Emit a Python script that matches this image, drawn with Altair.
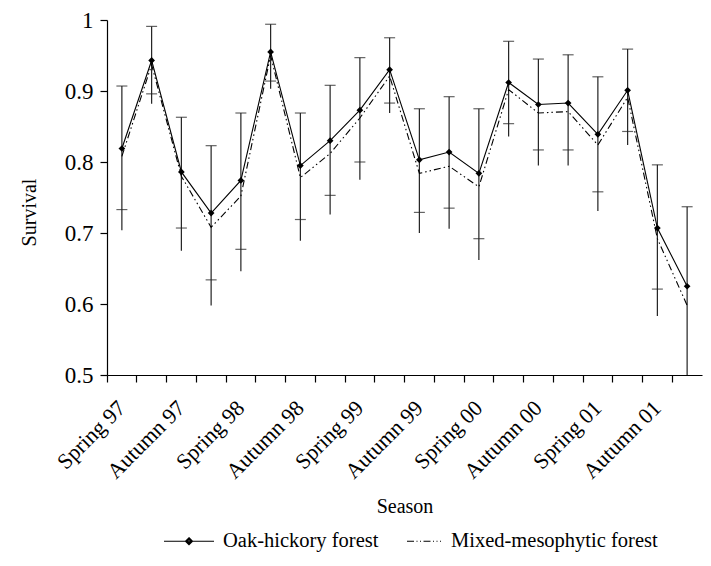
import altair as alt
import pandas as pd

# ---- data ----
seasons = [
    "Spring 97", "Summer 97", "Autumn 97", "Winter 97",
    "Spring 98", "Summer 98", "Autumn 98", "Winter 98",
    "Spring 99", "Summer 99", "Autumn 99", "Winter 99",
    "Spring 00", "Summer 00", "Autumn 00", "Winter 00",
    "Spring 01", "Summer 01", "Autumn 01", "Winter 01",
]
oak = [0.819, 0.943, 0.786, 0.728, 0.774, 0.955, 0.795, 0.830, 0.873, 0.930,
       0.803, 0.814, 0.784, 0.912, 0.881, 0.883, 0.839, 0.901, 0.707, 0.625]
mixed = [0.808, 0.937, 0.780, 0.708, 0.752, 0.950, 0.778, 0.812, 0.862, 0.921,
         0.784, 0.794, 0.765, 0.902, 0.869, 0.871, 0.824, 0.891, 0.692, 0.598]
err_upper = [0.907, 0.991, 0.863, 0.823, 0.869, 0.994, 0.869, 0.908, 0.947, 0.975,
             0.875, 0.892, 0.875, 0.970, 0.945, 0.951, 0.920, 0.959, 0.796, 0.737]
err_lower_cap = [0.733, 0.896, 0.707, 0.634, 0.677, 0.914, 0.719, 0.753, 0.800, 0.883,
                 0.729, 0.735, 0.692, 0.854, 0.817, 0.817, 0.758, 0.843, 0.621, None]
err_lower_end = [0.704, 0.882, 0.675, 0.598, 0.646, 0.903, 0.689, 0.726, 0.775, 0.869,
                 0.700, 0.706, 0.662, 0.836, 0.795, 0.795, 0.731, 0.824, 0.583, 0.500]
series_names = ["Oak-hickory forest", "Mixed-mesophytic forest"]
y_ticks = [0.5, 0.6, 0.7, 0.8, 0.9, 1.0]

FONT = "Liberation Serif"
W, H = 595, 355

err_df = pd.DataFrame({
    "season": seasons, "upper": err_upper,
    "lcap": err_lower_cap, "lend": err_lower_end,
})
oak_df = pd.DataFrame({"season": seasons, "value": oak, "series": series_names[0]})
mixed_df = pd.DataFrame({"season": seasons, "value": mixed, "series": series_names[1]})
long_df = pd.concat([oak_df, mixed_df], ignore_index=True)

x_enc = alt.X(
    "season:N", sort=seasons, title="Season",
    scale=alt.Scale(paddingInner=0, paddingOuter=0),
    axis=alt.Axis(
        bandPosition=0, tickSize=7, labelAngle=-45, labelAlign="right",
        labelBaseline="middle", labelPadding=22, labelOverlap=False,
        labelFontSize=22,
        labelExpr="test(/Summer|Winter/, datum.label) ? '' : datum.label",
        titleY=131, titleBaseline="middle",
    ),
)
yscale = alt.Scale(domain=[0.5, 1.0], nice=False, zero=False)
yaxis = alt.Axis(values=y_ticks, format=".1~f", tickSize=7, labelPadding=7,
                 labelFontSize=23, titleX=-78, titleY=192, titleBaseline="middle")


def y_enc(field):
    return alt.Y(field, scale=yscale, axis=yaxis, title="Survival")


rules = alt.Chart(err_df).mark_rule(color="#222", strokeWidth=1.2, clip=True).encode(
    x=x_enc, y=y_enc("lend:Q"), y2="upper:Q")
caps_top = alt.Chart(err_df).mark_tick(color="#222", thickness=1.2, size=11).encode(
    x=x_enc, y=y_enc("upper:Q"))
caps_low = alt.Chart(err_df).mark_tick(color="#222", thickness=1.2, size=11).encode(
    x=x_enc, y=y_enc("lcap:Q"))

line_oak = alt.Chart(oak_df).mark_line(color="black", strokeWidth=1.1).encode(
    x=x_enc, y=y_enc("value:Q"))
line_mixed = alt.Chart(mixed_df).mark_line(
    color="black", strokeWidth=1.1, strokeDash=[7, 3, 1.5, 3, 1.5, 3]
).encode(x=x_enc, y=y_enc("value:Q"))
points = alt.Chart(oak_df).mark_point(shape="diamond", filled=True, color="black",
                                      size=45, opacity=1).encode(
    x=x_enc, y=y_enc("value:Q"))

oak_path = ("M-1,0L1,0M0,-0.14L0.14,0L0,0.14L-0.14,0Z"
            "M0,-0.08L0.08,0L0,0.08L-0.08,0Z")
mixed_path = ("M-0.4,0L-0.12,0M-0.02,0L0.02,0M0.12,0L0.16,0"
              "M0.26,0L0.54,0M0.64,0L0.68,0M0.78,0L0.82,0M0.92,0L0.96,0")

# invisible marks that only carry the legend
legend_layer = alt.Chart(long_df).mark_point(
    size=2500, filled=False, color="black", strokeWidth=1.2, opacity=0
).encode(
    x=x_enc, y=y_enc("value:Q"),
    shape=alt.Shape(
        "series:N",
        scale=alt.Scale(domain=series_names, range=[oak_path, mixed_path]),
        legend=alt.Legend(
            title=None, orient="none", legendX=56, legendY=495,
            direction="horizontal", labelFont=FONT, labelFontSize=20.5,
            labelColor="black", labelOffset=8, columnPadding=12, labelLimit=400,
            symbolSize=2500, symbolStrokeColor="black", symbolFillColor="black",
            symbolStrokeWidth=1.2, symbolOpacity=1, padding=0,
        ),
    ),
)

chart = alt.layer(rules, caps_top, caps_low, line_mixed, line_oak, points,
                  legend_layer).properties(
    width=W, height=H,
    padding={"left": 99, "top": 12, "right": 1, "bottom": 178},
    autosize=alt.AutoSizeParams(type="none"),
).configure_view(stroke=None).configure_axis(
    labelFont=FONT, titleFont=FONT, titleFontSize=20,
    titleFontWeight="normal", labelColor="black", titleColor="black",
    domainColor="black", tickColor="black", domainWidth=1.2, tickWidth=1.2,
    grid=False,
).configure_legend(labelFont=FONT, titleFont=FONT)

chart.save("out.html", embed_options={"renderer": "svg", "actions": False})
